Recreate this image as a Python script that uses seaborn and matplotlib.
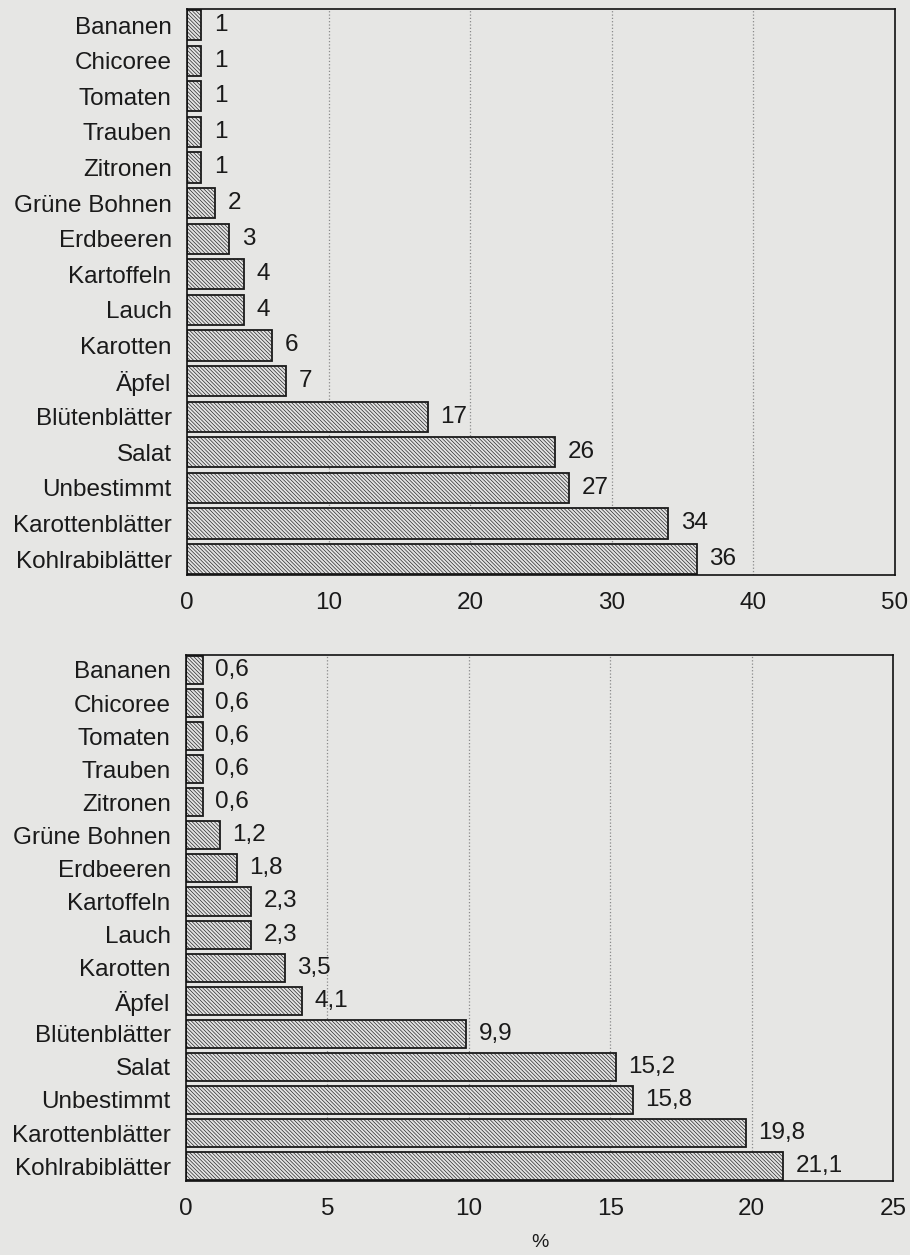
import matplotlib
matplotlib.use("Agg")
import matplotlib.pyplot as plt
import seaborn as sns
import pandas as pd

# categories (top to bottom) and the two series
categories = ["Bananen", "Chicoree", "Tomaten", "Trauben", "Zitronen",
              "Grüne Bohnen", "Erdbeeren", "Kartoffeln", "Lauch", "Karotten",
              "Äpfel", "Blütenblätter", "Salat", "Unbestimmt",
              "Karottenblätter", "Kohlrabiblätter"]
counts = [1, 1, 1, 1, 1, 2, 3, 4, 4, 6, 7, 17, 26, 27, 34, 36]
percents = [0.6, 0.6, 0.6, 0.6, 0.6, 1.2, 1.8, 2.3, 2.3, 3.5, 4.1,
            9.9, 15.2, 15.8, 19.8, 21.1]

top_ticks = [0, 10, 20, 30, 40, 50]
bottom_ticks = [0, 5, 10, 15, 20, 25]

df = pd.DataFrame({"cat": categories, "n": counts, "pct": percents})

sns.set_theme(style="white")
bg = "#e6e6e4"
plt.rcParams["font.family"] = ["Liberation Sans", "DejaVu Sans"]
plt.rcParams["hatch.linewidth"] = 0.45

fig = plt.figure(figsize=(9.1, 12.55), dpi=100, facecolor=bg)
ax1 = fig.add_axes([0.2055, 0.5418, 0.778, 0.451])
ax2 = fig.add_axes([0.2044, 0.059, 0.777, 0.419])


def draw(ax, col, ticks, fmt):
    sns.barplot(data=df, x=col, y="cat", orient="h", ax=ax,
                color="#e2e2e2", edgecolor="#1a1a1a", linewidth=1.3,
                width=0.85, saturation=1)
    for p in ax.patches:
        p.set_hatch("\\" * 9)
    ax.set_facecolor(bg)
    ax.set_xlim(ticks[0], ticks[-1])
    ax.set_ylim(15.45, -0.45)
    ax.set_xticks(ticks)
    ax.set_xticklabels([str(t) for t in ticks])
    ax.set_ylabel("")
    ax.set_xlabel("")
    for t in ticks[1:-1]:
        ax.axvline(t, color="#8a8a8a", linestyle=":", linewidth=0.9, zorder=0)
    ax.tick_params(axis="both", length=0, labelsize=17.5, colors="#1a1a1a")
    ax.tick_params(axis="y", pad=11)
    ax.tick_params(axis="x", pad=12)
    for s in ax.spines.values():
        s.set_visible(True)
        s.set_color("#111111")
        s.set_linewidth(1.2)
    ax.bar_label(ax.containers[0],
                 labels=[fmt(v) for v in df[col]],
                 padding=9, fontsize=17.5, color="#1a1a1a")


draw(ax1, "n", top_ticks, lambda v: f"{v:d}")
draw(ax2, "pct", bottom_ticks, lambda v: f"{v:.1f}".replace(".", ","))
ax2.set_xlabel("%", fontsize=14, labelpad=10, color="#1a1a1a")

fig.savefig("out.png", dpi=100, facecolor=bg)
